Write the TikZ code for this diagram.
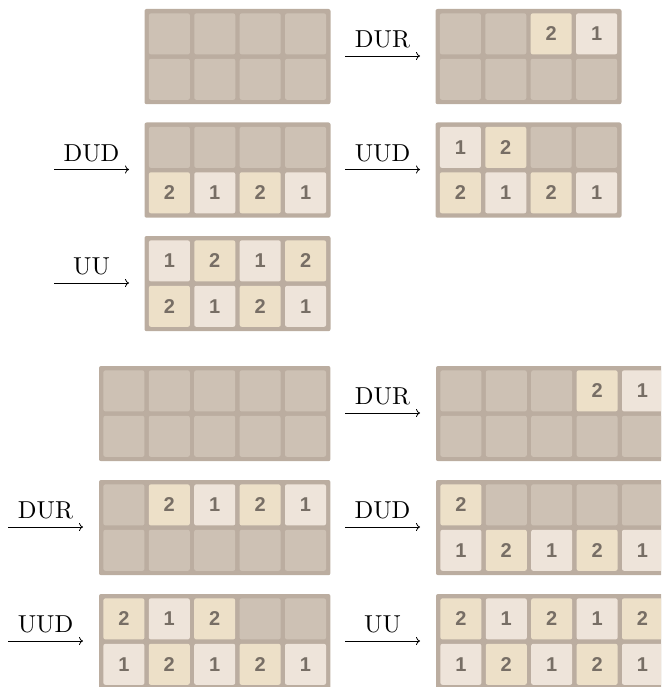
\documentclass[tikz,border=0pt]{standalone}
\usepackage{fontspec}
\newfontfamily\tilefont{Liberation Sans}
\newfontfamily\labfont{lmroman10-regular}[Extension=.otf]
\usetikzlibrary{arrows.meta}
\definecolor{boardc}{HTML}{BBADA0}
\definecolor{emptyc}{HTML}{CDC1B4}
\definecolor{onec}{HTML}{EEE4DA}
\definecolor{twoc}{HTML}{EDE0C8}
\definecolor{numc}{HTML}{776E65}
\tikzset{
  boardbg/.style={fill=boardc, draw=none, rounded corners=2pt, inner sep=0pt, outer sep=0pt, anchor=north west},
  tilebase/.style={draw=none, rounded corners=2pt, inner sep=0pt, outer sep=0pt, minimum width=41pt, minimum height=41pt,
    text=numc, font=\tilefont\bfseries\fontsize{20}{20}\selectfont},
  tile0/.style={tilebase, fill=emptyc},
  tile1/.style={tilebase, fill=onec},
  tile2/.style={tilebase, fill=twoc},
  arr/.style={line width=0.8pt, -{To[length=4pt,width=8pt]}},
  lab/.style={anchor=base, yshift=8.4pt, inner sep=0pt, font=\labfont\fontsize{24.5}{28}\selectfont}
}
% #1 name, #2 x, #3 y, #4 ncols, #5 top row, #6 bottom row
\newcommand\gameboard[6]{%
  \node[boardbg, minimum width={#4*45.4+4.4}, minimum height=95.2] (#1) at (#2,#3) {};
  \foreach \v [count=\i] in {#5} {
    \node[tile\v] (#1-a\i) at ({#2+24.9+(\i-1)*45.4},{#3+24.9}) {\ifnum\v=0\else\v\fi};
  }
  \foreach \v [count=\i] in {#6} {
    \node[tile\v] (#1-b\i) at ({#2+24.9+(\i-1)*45.4},{#3+70.3}) {\ifnum\v=0\else\v\fi};
  }
}
% #1 name, #2 x start, #3 x end, #4 y, #5 label
\newcommand\movearrow[5]{%
  \coordinate (#1s) at (#2,#4);
  \coordinate (#1e) at (#3,#4);
  \draw[arr] (#1s) -- node[lab] (#1l) {#5} (#1e);
}
\begin{document}
\begin{tikzpicture}[x=1pt,y=-1pt]
\clip (0,0) rectangle (661,687);
% section 1: 4 columns
\gameboard{b1}{144.5}{9}{4}{0,0,0,0}{0,0,0,0}
\movearrow{m1}{345}{420}{56}{DUR}
\gameboard{b2}{435.5}{9}{4}{0,0,2,1}{0,0,0,0}
\movearrow{m2}{54}{129}{169.5}{DUD}
\gameboard{b3}{144.5}{122.5}{4}{0,0,0,0}{2,1,2,1}
\movearrow{m3}{345}{420}{169.5}{UUD}
\gameboard{b4}{435.5}{122.5}{4}{1,2,0,0}{2,1,2,1}
\movearrow{m4}{54}{129}{283}{UU}
\gameboard{b5}{144.5}{236}{4}{1,2,1,2}{2,1,2,1}
% section 2: 5 columns
\gameboard{c1}{99}{366}{5}{0,0,0,0,0}{0,0,0,0,0}
\movearrow{n1}{345}{420}{413}{DUR}
\gameboard{c2}{436}{366}{5}{0,0,0,2,1}{0,0,0,0,0}
\movearrow{n2}{8}{83}{527}{DUR}
\gameboard{c3}{99}{480}{5}{0,2,1,2,1}{0,0,0,0,0}
\movearrow{n3}{345}{420}{527}{DUD}
\gameboard{c4}{436}{480}{5}{2,0,0,0,0}{1,2,1,2,1}
\movearrow{n4}{8}{83}{641}{UUD}
\gameboard{c5}{99}{594}{5}{2,1,2,0,0}{1,2,1,2,1}
\movearrow{n5}{345}{420}{641}{UU}
\gameboard{c6}{436}{594}{5}{2,1,2,1,2}{1,2,1,2,1}
\end{tikzpicture}
\end{document}
